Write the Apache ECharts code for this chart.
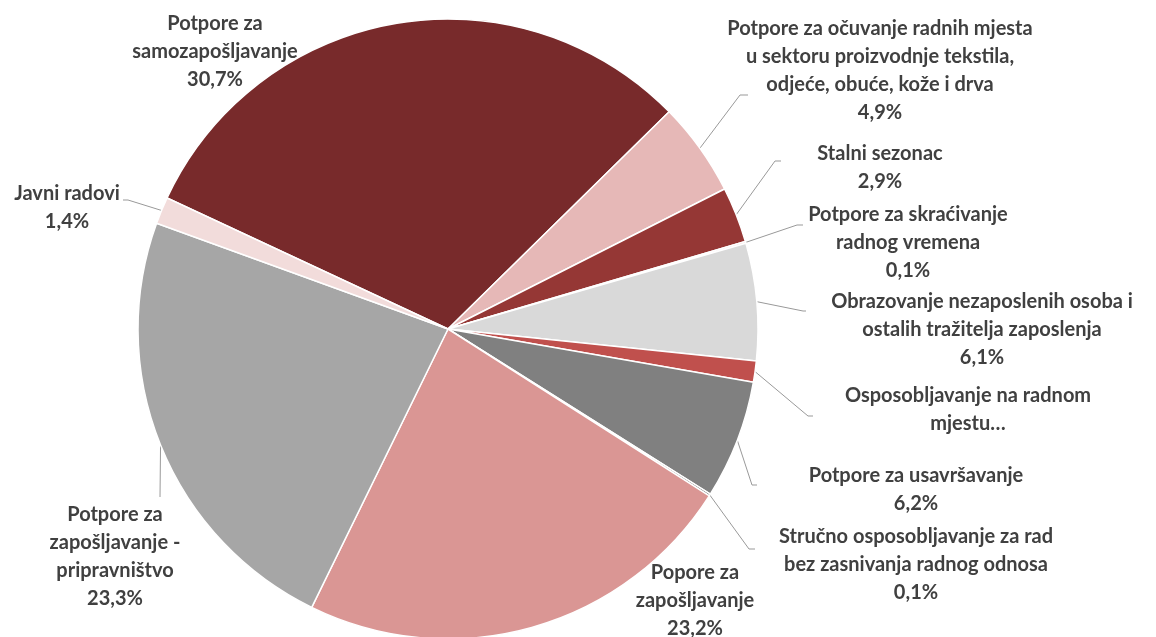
<!DOCTYPE html>
<html lang="hr">
<head>
  <meta charset="UTF-8">
  <title>Struktura mjera</title>
  <script src="https://cdn.jsdelivr.net/npm/echarts@6/dist/echarts.min.js"></script>
  <style>
    html, body { margin: 0; padding: 0; background: #fff; }
    #pie { width: 1156px; height: 637px; }
  </style>
</head>
<body>
  <div id="pie"></div>
  <script>
    // kategorije (s prijelomima redaka kao na slici) i udjeli u %
    var names = [
      'Potpore za\nsamozapošljavanje',
      'Potpore za očuvanje radnih mjesta\nu sektoru proizvodnje tekstila,\nodjeće, obuće, kože i drva',
      'Stalni sezonac',
      'Potpore za skraćivanje\nradnog vremena',
      'Obrazovanje nezaposlenih osoba i\nostalih tražitelja zaposlenja',
      'Osposobljavanje na radnom\nmjestu…',
      'Potpore za usavršavanje',
      'Stručno osposobljavanje za rad\nbez zasnivanja radnog odnosa',
      'Popore za\nzapošljavanje',
      'Potpore za\nzapošljavanje -\npripravništvo',
      'Javni radovi'
    ];
    var shares = [30.7, 4.9, 2.9, 0.1, 6.1, 1.1, 6.2, 0.1, 23.2, 23.3, 1.4];
    var colors = ['#782a2b', '#e6b8b7', '#953735', '#e6b8b7', '#d9d9d9', '#c0504d',
                  '#808080', '#595959', '#da9694', '#a6a6a6', '#f2dcdb'];

    // gdje stoje natpisi: [x, y, lakat x, lakat y, kraj x]
    var spots = [
      [215, 52],
      [880, 71, 740, 95, 748],
      [880, 168, 775, 161, 781],
      [908, 243, 797, 225, 803],
      [982, 330, 803, 311, 806],
      [968, 410, 808, 416, 813],
      [916, 490, 752, 485, 757],
      [916, 565, 749, 549, 755],
      [695, 601],
      [115, 557, 160, 497, 160],
      [67, 208, 128, 200, 123]
    ];

    var pieData = names.map(function (n, i) {
      return {
        name: n,
        value: shares[i],
        itemStyle: { color: colors[i] },
        labelLine: { show: spots[i].length > 2 }
      };
    });

    var chart = echarts.init(document.getElementById('pie'), null, { renderer: 'canvas' });
    chart.setOption({
      animation: false,
      series: [{
        type: 'pie',
        center: [448, 329],
        radius: 310,
        startAngle: 155,
        clockwise: true,
        avoidLabelOverlap: false,
        data: pieData,
        itemStyle: { borderColor: '#fff', borderWidth: 1.5 },
        label: {
          show: true,
          position: 'outside',
          color: '#404040',
          fontFamily: 'Lato',
          fontWeight: 'bold',
          fontSize: 20,
          lineHeight: 28,
          align: 'center',
          formatter: function (p) {
            if (p.name.slice(-1) === '…') return p.name;
            return p.name + '\n' + p.value.toFixed(1).replace('.', ',') + '%';
          }
        },
        labelLine: {
          show: true,
          lineStyle: { color: '#999999', width: 1 }
        },
        labelLayout: function (p) {
          var s = spots[p.dataIndex];
          var out = { x: s[0], y: s[1], align: 'center', verticalAlign: 'middle' };
          if (s.length > 2 && p.labelLinePoints) {
            out.labelLinePoints = [p.labelLinePoints[0], [s[2], s[3]], [s[4], s[3]]];
          }
          return out;
        }
      }]
    });
  </script>
</body>
</html>
